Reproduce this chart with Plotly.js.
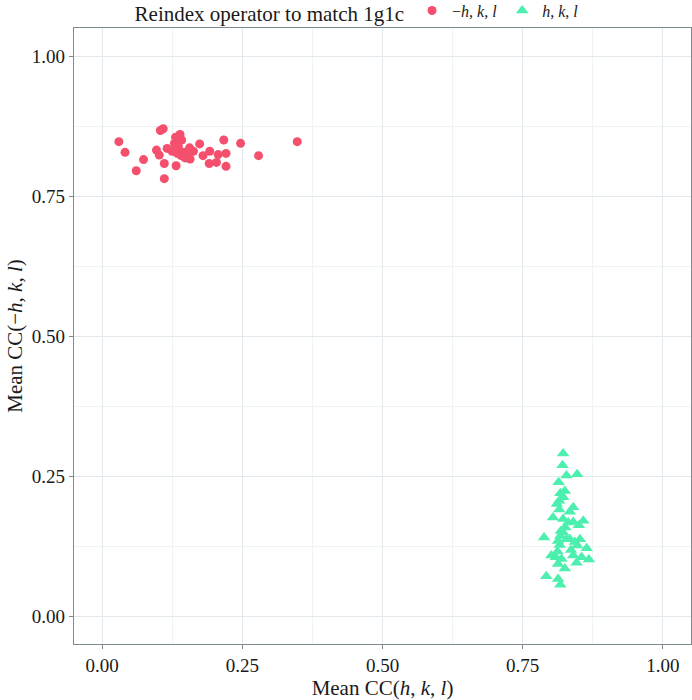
<!DOCTYPE html>
<html>
<head>
<meta charset="utf-8">
<script src="https://cdn.plot.ly/plotly-3.0.1.min.js"></script>
<style>html,body{margin:0;padding:0;background:#fff;}#chart{width:692px;height:700px;}</style>
</head>
<body>
<div id="chart"></div>
<script>
// Series: reindex operator -h,k,l (circles)
const negX = [0.030,0.041,0.061,0.074,0.104,0.109,0.097,0.102,0.116,0.111,0.111,0.131,0.139,0.142,0.129,0.134,0.141,0.145,0.132,0.156,0.157,0.163,0.151,0.174,0.180,0.192,0.191,0.204,0.207,0.217,0.221,0.221,0.247,0.279,0.348,0.136,0.125,0.148];
const negY = [0.847,0.828,0.795,0.815,0.867,0.870,0.832,0.823,0.835,0.808,0.781,0.855,0.860,0.850,0.844,0.826,0.822,0.828,0.804,0.836,0.816,0.830,0.826,0.843,0.822,0.830,0.808,0.810,0.824,0.850,0.826,0.803,0.844,0.822,0.847,0.839,0.830,0.818];
// Series: reindex operator h,k,l (triangles)
const posX = [0.822,0.821,0.828,0.847,0.814,0.825,0.817,0.822,0.815,0.811,0.840,0.834,0.815,0.804,0.822,0.831,0.840,0.850,0.858,0.788,0.817,0.822,0.828,0.813,0.834,0.843,0.852,0.847,0.816,0.864,0.801,0.809,0.819,0.840,0.855,0.868,0.846,0.813,0.825,0.792,0.813,0.817,0.826,0.818,0.836,0.812];
const posY = [0.290,0.269,0.251,0.253,0.239,0.223,0.219,0.212,0.206,0.200,0.194,0.186,0.190,0.176,0.173,0.167,0.168,0.162,0.170,0.140,0.143,0.149,0.137,0.134,0.137,0.132,0.137,0.126,0.127,0.121,0.108,0.105,0.102,0.108,0.105,0.101,0.095,0.093,0.085,0.071,0.066,0.056,0.158,0.152,0.118,0.115];
const seriesNames = ['\u2212<i>h</i>, <i>k</i>, <i>l</i>', '<i>h</i>, <i>k</i>, <i>l</i>'];
const tickVals = [0, 0.25, 0.5, 0.75, 1];
const tickText = ['0.00', '0.25', '0.50', '0.75', '1.00'];
const legendTitle = 'Reindex operator to match 1g1c';
const xTitle = 'Mean CC(<i>h</i>, <i>k</i>, <i>l</i>)';
const yTitle = 'Mean CC(\u2212<i>h</i>, <i>k</i>, <i>l</i>)';

const FONT = 'Liberation Serif, Times New Roman, serif';
const traces = [
  {x: negX, y: negY, mode: 'markers', type: 'scatter', name: seriesNames[0],
   marker: {symbol: 'circle', size: 9, color: '#F4506E'}},
  {x: posX, y: posY, mode: 'markers', type: 'scatter', name: seriesNames[1],
   marker: {symbol: 'triangle-up', size: 11, color: '#4CEFAE'}}
];
function axis(title) {
  return {
    range: [-0.05, 1.05], tickvals: tickVals, ticktext: tickText,
    showgrid: true, gridcolor: '#E3EAEE', gridwidth: 1,
    minor: {tickvals: [0.125, 0.375, 0.625, 0.875], showgrid: true, gridcolor: '#EFF3F5', gridwidth: 1, ticks: ''},
    zeroline: false, showline: true, mirror: true, linecolor: '#7D898E', linewidth: 1.2,
    ticks: 'outside', ticklen: 4, tickcolor: '#7D898E', tickwidth: 1,
    tickfont: {family: FONT, size: 19, color: '#1a1a1a'},
    title: {text: title, font: {family: FONT, size: 21, color: '#1a1a1a'}, standoff: 3},
    automargin: false
  };
}
const layout = {
  width: 692, height: 700,
  margin: {l: 74, r: 1, t: 28, b: 56, autoexpand: false},
  paper_bgcolor: '#fff', plot_bgcolor: '#fff',
  font: {family: FONT, color: '#1a1a1a'},
  xaxis: axis(xTitle),
  yaxis: axis(yTitle),
  showlegend: true,
  legend: {orientation: 'h', x: 0.095, xanchor: 'left', yref: 'container', y: 0.982, yanchor: 'middle',
    title: {text: legendTitle, side: 'left', font: {family: FONT, size: 21, color: '#1a1a1a'}},
    font: {family: FONT, size: 16, color: '#1a1a1a'}, itemwidth: 30, tracegroupgap: 0,
    bgcolor: 'rgba(0,0,0,0)'}
};
Plotly.newPlot('chart', traces, layout, {displayModeBar: false, staticPlot: true});
</script>
</body>
</html>
